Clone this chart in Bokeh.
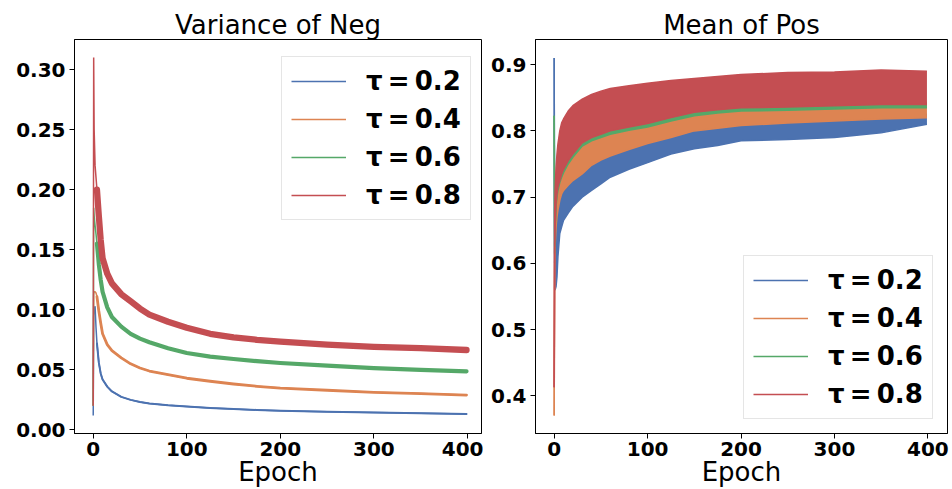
from bokeh.plotting import figure
from bokeh.models import (Range1d, FixedTicker, PrintfTickFormatter,
                          Legend, LegendItem)
from bokeh.layouts import row
from bokeh.embed import file_html
from bokeh.resources import INLINE

# ---------------- data ----------------
EPOCHS = [0, 0.5, 1, 2, 3, 4, 6, 8, 10, 15, 20, 30, 40, 50, 60, 80, 100,
          125, 150, 175, 200, 250, 300, 350, 399]
TAU_LABELS = ["\u03c4\u2009=\u20090.2", "\u03c4\u2009=\u20090.4",
              "\u03c4\u2009=\u20090.6", "\u03c4\u2009=\u20090.8"]
COLORS = ["#4C72B0", "#DD8452", "#55A868", "#C44E52"]

# Variance of Neg (centre of each noisy curve)
NEG_VAR_02 = [0.012, 0.095, 0.100, 0.103, 0.085, 0.072, 0.056, 0.047, 0.042,
              0.036, 0.032, 0.0275, 0.025, 0.0232, 0.022, 0.0205, 0.0195,
              0.0183, 0.0174, 0.0166, 0.016, 0.0151, 0.0145, 0.0139, 0.0133]
NEG_VAR_04 = [0.02, 0.113, 0.115, 0.115, 0.114, 0.111, 0.099, 0.089, 0.080,
              0.071, 0.066, 0.060, 0.055, 0.0515, 0.049, 0.046, 0.043,
              0.0405, 0.0382, 0.0363, 0.0348, 0.033, 0.0313, 0.0302, 0.029]
NEG_VAR_06 = [0.02, 0.185, 0.178, 0.17, 0.163, 0.155, 0.138, 0.125, 0.115,
              0.102, 0.094, 0.086, 0.080, 0.076, 0.073, 0.068, 0.064, 0.061,
              0.059, 0.0572, 0.0557, 0.0535, 0.0515, 0.050, 0.0488]
NEG_VAR_08 = [0.02, 0.31, 0.25, 0.22, 0.21, 0.20, 0.178, 0.158, 0.143, 0.13,
              0.122, 0.113, 0.107, 0.101, 0.096, 0.090, 0.085, 0.080, 0.077,
              0.075, 0.0735, 0.071, 0.0692, 0.068, 0.0665]
NEG_VAR = [NEG_VAR_02, NEG_VAR_04, NEG_VAR_06, NEG_VAR_08]

# Mean of Pos (visible lower / upper envelope of each noisy curve)
POS_MEAN_02_LO = [0.91, 0.56, 0.56, 0.565, 0.58, 0.61, 0.645, 0.655, 0.665,
                  0.676, 0.686, 0.70, 0.71, 0.72, 0.73, 0.742, 0.752, 0.765,
                  0.773, 0.778, 0.785, 0.787, 0.79, 0.797, 0.81]
POS_MEAN_02_HI = [0.91, 0.60, 0.63, 0.66, 0.675, 0.685, 0.70, 0.71, 0.715,
                  0.723, 0.73, 0.74, 0.753, 0.761, 0.767, 0.777, 0.786, 0.795,
                  0.805, 0.809, 0.813, 0.817, 0.82, 0.823, 0.825]
POS_MEAN_04_LO = [0.37, 0.60, 0.625, 0.655, 0.67, 0.68, 0.695, 0.705, 0.71,
                  0.718, 0.725, 0.735, 0.748, 0.756, 0.762, 0.772, 0.781, 0.79,
                  0.80, 0.804, 0.808, 0.812, 0.815, 0.818, 0.82]
POS_MEAN_04_HI = [0.37, 0.63, 0.66, 0.695, 0.71, 0.72, 0.74, 0.75, 0.755,
                  0.765, 0.772, 0.788, 0.795, 0.80, 0.805, 0.81, 0.816, 0.825,
                  0.832, 0.836, 0.838, 0.84, 0.842, 0.843, 0.843]
POS_MEAN_06_LO = [0.823, 0.615, 0.65, 0.685, 0.70, 0.71, 0.722, 0.73, 0.737,
                  0.75, 0.76, 0.777, 0.785, 0.79, 0.795, 0.801, 0.806, 0.815,
                  0.823, 0.827, 0.83, 0.831, 0.833, 0.835, 0.835]
POS_MEAN_06_HI = [0.823, 0.625, 0.658, 0.693, 0.708, 0.718, 0.73, 0.738,
                  0.745, 0.758, 0.768, 0.785, 0.793, 0.798, 0.803, 0.809,
                  0.814, 0.823, 0.831, 0.835, 0.838, 0.839, 0.841, 0.843, 0.843]
POS_MEAN_08_LO = [0.413, 0.62, 0.655, 0.69, 0.705, 0.715, 0.725, 0.735, 0.742,
                  0.755, 0.765, 0.782, 0.79, 0.795, 0.80, 0.806, 0.811, 0.82,
                  0.828, 0.832, 0.835, 0.836, 0.838, 0.84, 0.84]
POS_MEAN_08_HI = [0.413, 0.68, 0.71, 0.745, 0.765, 0.78, 0.80, 0.812, 0.818,
                  0.83, 0.838, 0.848, 0.855, 0.86, 0.864, 0.868, 0.872, 0.876,
                  0.879, 0.882, 0.885, 0.888, 0.889, 0.892, 0.89]
POS_LO = [POS_MEAN_02_LO, POS_MEAN_04_LO, POS_MEAN_06_LO, POS_MEAN_08_LO]
POS_HI = [POS_MEAN_02_HI, POS_MEAN_04_HI, POS_MEAN_06_HI, POS_MEAN_08_HI]

NEG_TICKS = [0.0, 0.05, 0.10, 0.15, 0.20, 0.25, 0.30]
POS_TICKS = [0.4, 0.5, 0.6, 0.7, 0.8, 0.9]
X_TICKS = [0, 100, 200, 300, 400]

# noise thickness (px) of the left-hand curves, after the first epochs
NEG_BAND_PX = [2.0, 2.8, 4.2, 6.3]

FONT = "DejaVu Sans"
H = 489


def style(p, title, yticks, fmt):
    p.background_fill_color = "white"
    p.border_fill_color = "white"
    p.outline_line_color = "black"
    p.outline_line_width = 1
    p.xgrid.visible = False
    p.ygrid.visible = False
    p.title.text = title
    p.title.align = "center"
    p.title.text_font = FONT
    p.title.text_font_style = "normal"
    p.title.text_font_size = "26px"
    p.title.text_color = "black"
    p.title.standoff = 0
    p.xaxis.ticker = FixedTicker(ticks=X_TICKS)
    p.yaxis.ticker = FixedTicker(ticks=yticks)
    p.yaxis.formatter = PrintfTickFormatter(format=fmt)
    for ax in (p.xaxis[0], p.yaxis[0]):
        ax.axis_line_color = "black"
        ax.major_tick_line_color = "black"
        ax.major_tick_out = 5
        ax.major_tick_in = 0
        ax.minor_tick_line_color = None
        ax.major_label_text_font = FONT
        ax.major_label_text_font_style = "bold"
        ax.major_label_text_font_size = "20px"
        ax.major_label_text_color = "black"
    p.xaxis.major_label_standoff = 3
    p.yaxis.major_label_standoff = 4
    p.xaxis.axis_label = "Epoch"
    p.xaxis.axis_label_text_font = FONT
    p.xaxis.axis_label_text_font_style = "normal"
    p.xaxis.axis_label_text_font_size = "26px"
    p.xaxis.axis_label_text_color = "black"
    p.xaxis.axis_label_standoff = -2


def make_legend(items, loc):
    return Legend(items=items, location=loc, padding=9, spacing=8,
                  glyph_width=55, glyph_height=30, label_height=30,
                  label_width=80, label_standoff=20,
                  label_text_font=FONT, label_text_font_style="bold",
                  label_text_font_size="26px", label_text_color="black",
                  border_line_color="#cccccc", border_line_width=1,
                  background_fill_color="white", background_fill_alpha=0.8)


# ---------------- left: Variance of Neg ----------------
p1 = figure(width=483, height=H, output_backend="svg", toolbar_location=None,
            x_range=Range1d(-20, 415), y_range=Range1d(-0.003, 0.325),
            min_border_left=74, min_border_right=2, min_border_top=39,
            min_border_bottom=56)
style(p1, "Variance of Neg", NEG_TICKS, "%.2f")
items1 = []
for vals, col, lab, bw in zip(NEG_VAR, COLORS, TAU_LABELS, NEG_BAND_PX):
    r = p1.line(EPOCHS, vals, line_color=col, line_width=1.5)
    p1.line(EPOCHS[5:], vals[5:], line_color=col, line_width=bw,
            line_join="round", line_cap="round")
    items1.append(LegendItem(label=lab, renderers=[r]))
p1.add_layout(make_legend(items1, (207, 213)), "center")

# ---------------- right: Mean of Pos ----------------
p2 = figure(width=469, height=H, output_backend="svg", toolbar_location=None,
            x_range=Range1d(-20, 421), y_range=Range1d(0.343, 0.938),
            min_border_left=52, min_border_right=5, min_border_top=39,
            min_border_bottom=56)
style(p2, "Mean of Pos", POS_TICKS, "%.1f")
items2 = []
for lo, hi, col, lab in zip(POS_LO, POS_HI, COLORS, TAU_LABELS):
    p2.varea(x=EPOCHS, y1=lo, y2=hi, fill_color=col, fill_alpha=1)
    r = p2.line(EPOCHS, hi, line_color=col, line_width=1.5)
    p2.line(EPOCHS, lo, line_color=col, line_width=1.5)
    items2.append(LegendItem(label=lab, renderers=[r]))
p2.add_layout(make_legend(items2, (208, 14)), "center")

layout = row(p1, p2)
open("out.html", "w").write(file_html(layout, INLINE))
